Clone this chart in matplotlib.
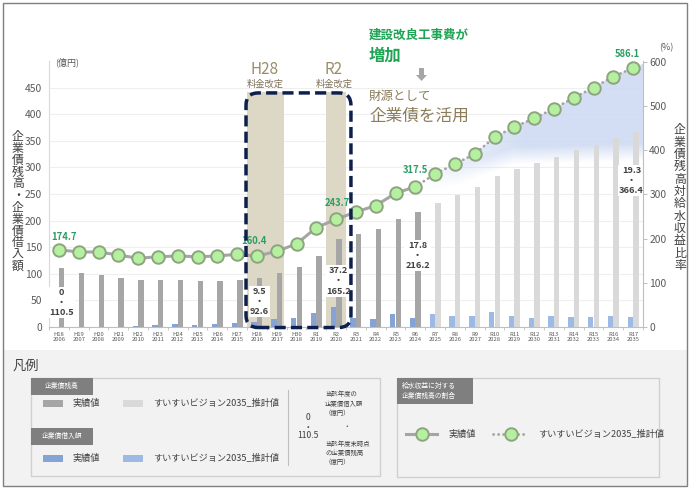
import matplotlib
matplotlib.use('Agg')
import matplotlib.pyplot as plt
import numpy as np
from matplotlib.patches import Rectangle, FancyBboxPatch, Polygon, FancyArrow
from matplotlib.lines import Line2D

plt.rcParams['font.family'] = ['Noto Sans CJK JP', 'DejaVu Sans']

# ---------------- data ----------------
fiscal = ['H18', 'H19', 'H20', 'H21', 'H22', 'H23', 'H24', 'H25', 'H26', 'H27',
          'H28', 'H29', 'H30', 'R1', 'R2', 'R3', 'R4', 'R5', 'R6', 'R7',
          'R8', 'R9', 'R10', 'R11', 'R12', 'R13', 'R14', 'R15', 'R16', 'R17']
years = ['2006', '2007', '2008', '2009', '2010', '2011', '2012', '2013', '2014', '2015',
         '2016', '2017', '2018', '2019', '2020', '2021', '2022', '2023', '2024', '2025',
         '2026', '2027', '2028', '2029', '2030', '2031', '2032', '2033', '2034', '2035']
# 企業債残高 (億円)
balance = [110.5, 102, 97.5, 93, 89, 89, 89, 87, 87, 89,
           92.6, 102, 112, 133, 165.2, 175.6, 184.5, 203.8, 216.2, 233.8,
           249, 262.5, 284, 297.5, 307.5, 320, 332.5, 342.5, 355, 366.4]
# 企業債借入額 (億円)
borrow = [0, 0, 0, 0, 1.2, 3.1, 5, 3, 5, 6.9,
          9.5, 14.4, 16.3, 25.6, 37.2, 17.5, 15, 24.4, 17.8, 24,
          20.6, 20.6, 28.8, 20.6, 17.5, 20.6, 19.5, 18.5, 20.6, 19.3]
# 企業債残高対給水収益比率 (%)
ratio = [174.7, 169.8, 169.8, 163, 155.5, 159, 160.7, 159, 160.7, 164.6,
         160.4, 171.4, 188, 224.9, 243.7, 260.4, 274.7, 302.6, 317.5, 346.4,
         369, 391.5, 429.5, 453, 472, 494.5, 518.5, 541.8, 566.7, 586.1]
n_actual = 19  # H18..R6 actual, R7..R17 projected (すいすいビジョン2035)

labelled_points = [0, 10, 14, 18, 29]

# colours
C_BAL_A, C_BAL_P = '#a6a6a6', '#d9d9d9'
C_BOR_A, C_BOR_P = '#86a3d6', '#9dbae4'
C_BEIGE = '#ddd8c6'
C_GREEN = '#1fa455'
C_KHAKI = '#8b7d5a'
C_TXT = '#404040'
C_TICK = '#595959'

W, H = 690, 488
fig = plt.figure(figsize=(W / 100, H / 100), dpi=100, facecolor='white')

# background panels (pixel coords)
bg = fig.add_axes([0, 0, 1, 1], zorder=-1)
bg.set_xlim(0, W); bg.set_ylim(H, 0); bg.axis('off')
bg.add_patch(Rectangle((3, 350), 684, 136, fc='#f2f2f2', ec='none'))
bg.add_patch(Rectangle((2.5, 2.5), 684.5, 483.5, fc='none', ec='#7f7f7f', lw=1.0))

# ---------------- main chart ----------------
ax = fig.add_axes([49 / W, 1 - 327 / H, 594 / W, 266 / H])
ax.set_zorder(1)
ax.patch.set_visible(False)
ax2 = ax.twinx()
ax2.set_zorder(2)

x = np.arange(len(fiscal))
n = len(fiscal)
bal_colors = [C_BAL_A if i < n_actual else C_BAL_P for i in range(n)]
bor_colors = [C_BOR_A if i < n_actual else C_BOR_P for i in range(n)]

# beige bands for the tariff revisions
ax.add_patch(Rectangle((9.5, 0), 1.87, 442, fc=C_BEIGE, ec='none', zorder=1))
ax.add_patch(Rectangle((13.5, 0), 1.0, 442, fc=C_BEIGE, ec='none', zorder=1))

ax.bar(x + 0.14, balance, 0.27, color=bal_colors, zorder=3)
ax.bar(x - 0.14, borrow, 0.27, color=bor_colors, zorder=3)

# soft gradient wedge under the projected ratio line (in ratio units)
gx = np.linspace(-0.5, 29.5, 300)
gy = np.linspace(0, 602, 300)
GX, GY = np.meshgrid(gx, gy)
edge = np.interp(GX, [18, 20, 23, 29.5], [300, 318, 368, 376])
a_x = np.clip((GX - 18.0) / 5.5, 0, 1) ** 0.8
a_y = np.clip((GY - edge) / 40.0, 0, 1)
img = np.zeros(GX.shape + (4,))
img[..., 0] = 0.80
img[..., 1] = 0.852
img[..., 2] = 0.95
img[..., 3] = 0.85 * a_x * a_y
im = ax.imshow(img, extent=[-0.5, 29.5, 0, 602], origin='lower', transform=ax2.transData,
               aspect='auto', interpolation='bilinear', zorder=2)
top = [(x[i], ratio[i]) for i in range(n_actual - 1, n)]
top.append((29.5, ratio[-1] + (ratio[-1] - ratio[-2]) / 2))
clip_poly = Polygon(top + [(29.5, 0), (x[n_actual - 1], 0)], closed=True, transform=ax2.transData)
im.set_clip_path(clip_poly)

ax.set_xlim(-0.5, 29.5)
ax.set_ylim(0, 500)
ax2.set_ylim(0, 602)

# bar value labels
bar_label_pos = {0: (0.12, 46), 10: (0.14, 48), 14: (0.12, 86.5), 18: (0.12, 134.5), 29: (-0.08, 275.5)}
for i, (dx, yy) in bar_label_pos.items():
    ax.text(x[i] + dx, yy, f'{borrow[i]:g}\n・\n{balance[i]:g}', ha='center', va='center',
            fontsize=6.6, fontweight='bold', color=C_TXT, linespacing=1.15, zorder=6,
            bbox=dict(boxstyle='square,pad=0.12', fc='white', ec='none'))

# ratio line
ax2.plot(x[:n_actual], ratio[:n_actual], color='#a5a5a5', lw=2.2, zorder=3,
         solid_capstyle='round')
ax2.plot(x[n_actual - 1:], ratio[n_actual - 1:], color='#a5a5a5', lw=2.0,
         ls=(0, (0.1, 1.7)), dash_capstyle='round', zorder=3)
ax2.plot(x, ratio, ls='none', marker='o', ms=9, mfc='#b4f0a0', mec='#8da47f', mew=1.4, zorder=4)

pt_offsets = {0: (4, 9.5), 10: (-2, 11), 14: (1, 12), 18: (0, 12), 29: (-4, 10)}
for i in labelled_points:
    ax2.annotate(f'{ratio[i]}', (x[i], ratio[i]), xytext=pt_offsets[i], textcoords='offset points',
                 ha='center', va='center', fontsize=6.8, fontweight='bold', color='#2a9d62', zorder=5)

# dashed rounded box around H28 .. R2
box = FancyBboxPatch((9.45, -1), 5.3, 441, boxstyle='round,pad=0,rounding_size=0.62',
                     mutation_aspect=37.2, fill=False, ec='#0d1f4d', lw=2.5,
                     ls=(0, (3.2, 1.5)), transform=ax.transData, zorder=10, clip_on=False)
ax2.add_patch(box)

# axes styling
ax.set_yticks(range(0, 451, 50))
ax.grid(axis='y', color='#efefef', lw=0.8, zorder=0)
ax.set_axisbelow(True)
ax.tick_params(axis='y', length=0, pad=5, labelsize=7.4, labelcolor=C_TICK)
ax.set_xticks(x, [f'{f}\n{y}' for f, y in zip(fiscal, years)])
ax.set_xticks(np.arange(-0.5, 30, 1), minor=True)
ax.tick_params(axis='x', which='major', length=0, pad=3.5, labelsize=4.2, labelcolor=C_TICK)
ax.tick_params(axis='x', which='minor', length=2.5, width=0.6, color='#bfbfbf')
for t in ax.get_xticklabels():
    t.set_linespacing(1.05)
for s in ['top', 'right']:
    ax.spines[s].set_visible(False)
ax.spines['left'].set_color('#d9d9d9')
ax.spines['bottom'].set_color('#bfbfbf')

ax2.set_yticks(range(0, 601, 100))
ax2.tick_params(axis='y', length=3, width=0.7, color='#bfbfbf', pad=1.5, labelsize=7.4, labelcolor=C_TICK)
for s in ['top', 'left', 'bottom']:
    ax2.spines[s].set_visible(False)
ax2.spines['right'].set_color('#bfbfbf')

# ---------------- foreground annotations (pixel coords) ----------------
fg = fig.add_axes([0, 0, 1, 1], zorder=10)
fg.set_xlim(0, W); fg.set_ylim(H, 0); fg.axis('off')

# axis titles (vertical, upright characters)
left_title = '企業債残高・企業債借入額'
for k, ch in enumerate(left_title):
    fg.text(18, 136.7 + k * 11.8, ch, ha='center', va='center', fontsize=8.6, color=C_TXT)
right_title = '企業債残高対給水収益比率'
for k, ch in enumerate(right_title):
    fg.text(680, 130 + k * 12.3, ch, ha='center', va='center', fontsize=8.6, color=C_TXT)
fg.text(66.7, 62.7, '(億円)', ha='center', va='center', fontsize=6.5, color=C_TICK)
fg.text(666.5, 48, '(%)', ha='center', va='center', fontsize=6.5, color=C_TICK)

# tariff revision labels
for cx, nm in [(265, 'H28'), (334, 'R2')]:
    fg.text(cx, 70, nm, ha='center', va='center', fontsize=11, color='#9b8d69')
    fg.text(cx, 84, '料金改定', ha='center', va='center', fontsize=6.7, color='#7a6e55')

# message
fg.text(369, 35, '建設改良工事費が', ha='left', va='center', fontsize=9, fontweight='bold', color=C_GREEN)
fg.text(369, 56, '増加', ha='left', va='center', fontsize=11.8, fontweight='bold', color=C_GREEN)
fg.add_patch(FancyArrow(421.5, 68, 0, 13, width=5, head_width=11, head_length=6,
                        length_includes_head=True, fc='#a6a6a6', ec='none'))
fg.text(369, 96.7, '財源として', ha='left', va='center', fontsize=9, color=C_KHAKI)
fg.text(369, 116.7, '企業債を活用', ha='left', va='center', fontsize=12, color=C_KHAKI)

# ---------------- legend panel ----------------
fg.text(13, 366, '凡例', ha='left', va='center', fontsize=9.5, color=C_TXT)

# left box
fg.add_patch(Rectangle((30.7, 378), 349.3, 98, fc='none', ec='#d0d0d0', lw=1.0))
for ty, tag in [(378, '企業債残高'), (428, '企業債借入額')]:
    fg.add_patch(Rectangle((30.7, ty), 62, 16.5, fc='#7f7f7f', ec='none'))
    fg.text(61.7, ty + 8.3, tag, ha='center', va='center', fontsize=4.9, color='white')
for py, ca, cp in [(400, C_BAL_A, C_BAL_P), (455, C_BOR_A, C_BOR_P)]:
    fg.add_patch(Rectangle((43, py), 20, 7, fc=ca, ec='none'))
    fg.text(72.7, py + 3.5, '実績値', ha='left', va='center', fontsize=6.6, color=C_TXT)
    fg.add_patch(Rectangle((122.7, py), 20, 7, fc=cp, ec='none'))
    fg.text(152.7, py + 3.5, 'すいすいビジョン2035_推計値', ha='left', va='center', fontsize=6.6, color=C_TXT)
fg.plot([288, 288], [390, 465], color='#bfbfbf', lw=0.8)
fg.text(308, 418, '0', ha='center', va='center', fontsize=6.2, color=C_TXT)
fg.text(308, 427, '・', ha='center', va='center', fontsize=6.2, color=C_TXT)
fg.text(308, 436, '110.5', ha='center', va='center', fontsize=6.2, color=C_TXT)
fg.text(325, 403.5, '当該年度の\n企業債借入額\n（億円）', ha='left', va='center', fontsize=4.6,
        color=C_TXT, linespacing=1.2)
fg.text(346.7, 426.7, '・', ha='center', va='center', fontsize=4.8, color=C_TXT)
fg.text(325, 452.8, '当該年度末時点\nの企業債残高\n（億円）', ha='left', va='center', fontsize=4.6,
        color=C_TXT, linespacing=1.2)

# right box
fg.add_patch(Rectangle((397, 378), 262, 99, fc='none', ec='#d0d0d0', lw=1.0))
fg.add_patch(Rectangle((397, 378), 76, 26, fc='#7f7f7f', ec='none'))
fg.text(402, 391, '給水収益に対する\n企業債残高の割合', ha='left', va='center', fontsize=4.9,
        color='white', linespacing=1.2)
fg.add_line(Line2D([406, 437], [434, 434], color='#a5a5a5', lw=2.2))
fg.add_line(Line2D([422], [434], ls='none', marker='o', ms=9, mfc='#b4f0a0', mec='#8da47f', mew=1.4))
fg.text(449, 434, '実績値', ha='left', va='center', fontsize=6.6, color=C_TXT)
fg.add_line(Line2D([493, 527], [434, 434], color='#a5a5a5', lw=2.0, ls=(0, (0.1, 1.7)),
                   dash_capstyle='round'))
fg.add_line(Line2D([510.7], [434], ls='none', marker='o', ms=9, mfc='#b4f0a0', mec='#8da47f', mew=1.4))
fg.text(538, 434, 'すいすいビジョン2035_推計値', ha='left', va='center', fontsize=6.6, color=C_TXT)

fig.savefig('out.png', dpi=100, facecolor='white')
